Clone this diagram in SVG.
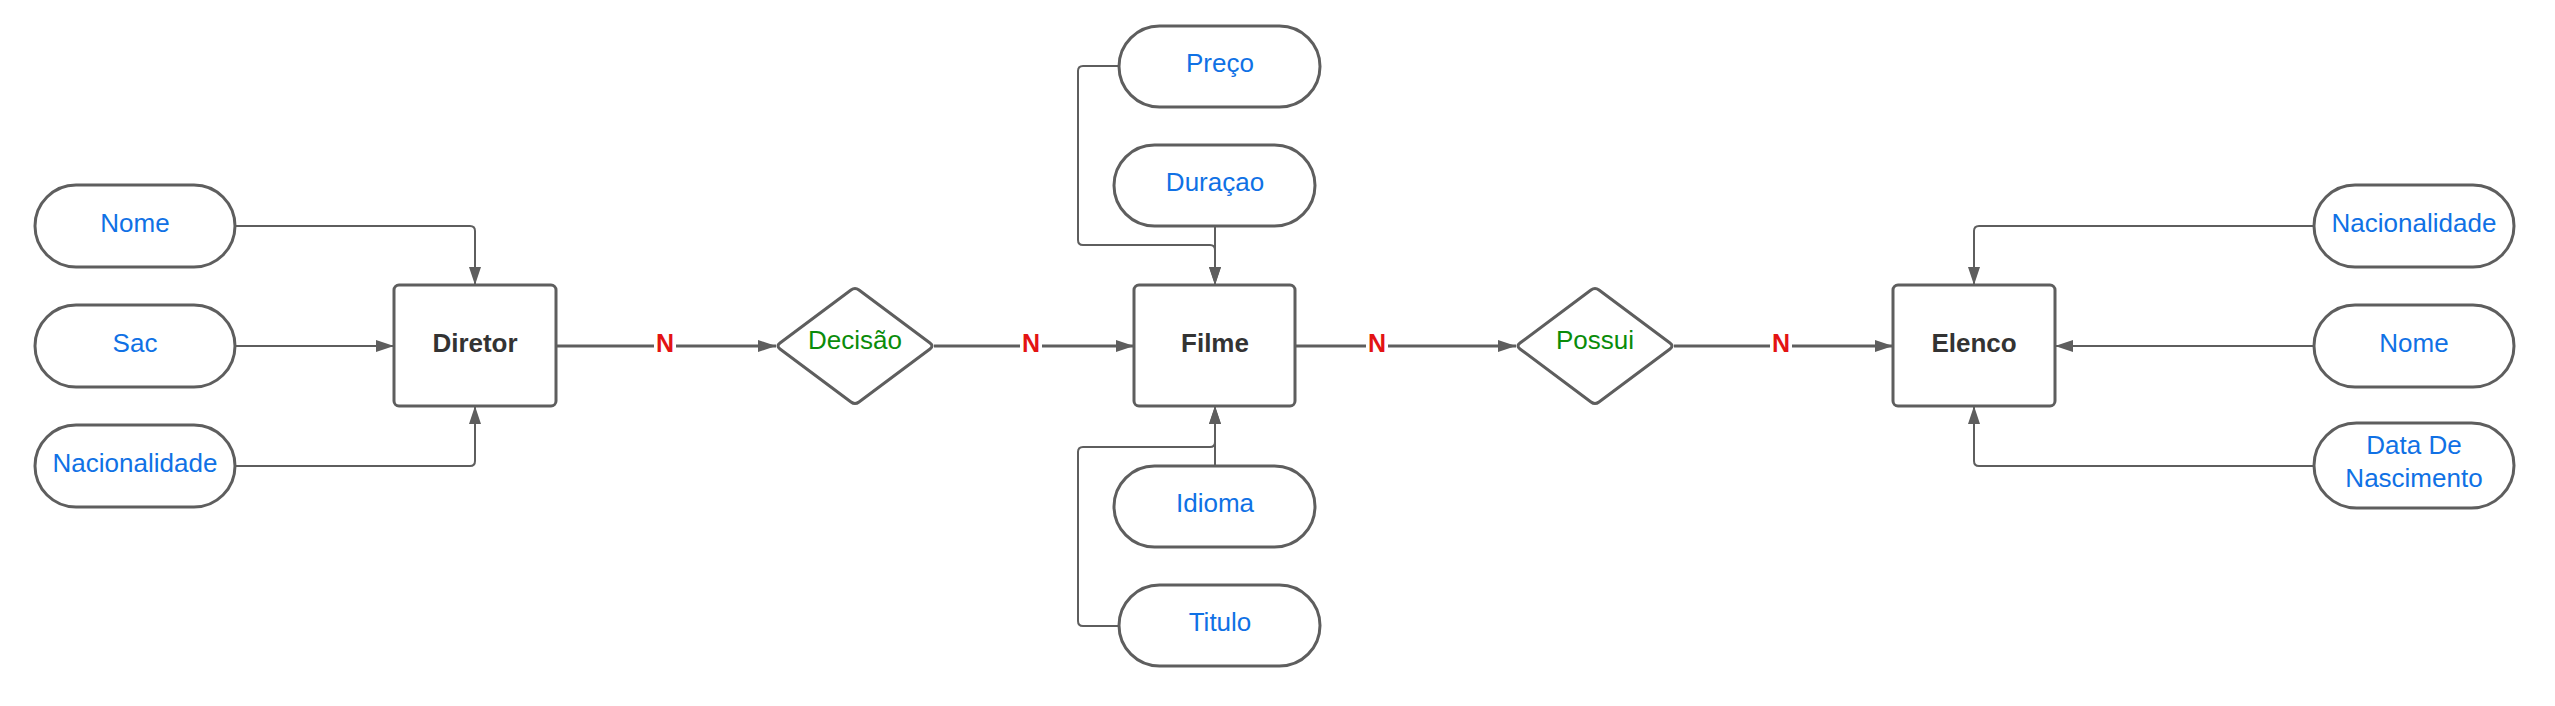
<svg xmlns="http://www.w3.org/2000/svg" width="2555" height="706" viewBox="0 0 2555 706">
<style>
.attr{fill:#fff;stroke:#5e5e5e;stroke-width:3}
.ent{fill:#fff;stroke:#5e5e5e;stroke-width:3}
.rel{fill:#fff;stroke:#5e5e5e;stroke-width:3;stroke-linejoin:round}
.at{font-family:"Liberation Sans",Arial,sans-serif;font-size:26px;fill:#1071e5;text-anchor:middle}
.et{font-family:"Liberation Sans",Arial,sans-serif;font-size:26px;font-weight:bold;fill:#333;text-anchor:middle}
.rt{font-family:"Liberation Sans",Arial,sans-serif;font-size:26px;fill:#0a8c0a;text-anchor:middle}
.nt{font-family:"Liberation Sans",Arial,sans-serif;font-size:25px;font-weight:bold;fill:#e31313;text-anchor:middle}
.c{fill:none;stroke:#5e5e5e;stroke-width:2;marker-end:url(#arr)}
.m{fill:none;stroke:#5e5e5e;stroke-width:3;marker-end:url(#arr)}
</style>
<defs>
<marker id="arr" markerUnits="userSpaceOnUse" markerWidth="19" markerHeight="13" refX="18" refY="6.5" orient="auto">
<path d="M0,0.5 L18,6.5 L0,12.5 z" fill="#5e5e5e"/>
</marker>
</defs>
<rect width="2555" height="706" fill="#fff"/>
<g id="connectors">
<path class="c" d="M235,226 H470 Q475,226 475,231 V285"/>
<path class="c" d="M235,346 H394"/>
<path class="c" d="M235,466 H470 Q475,466 475,461 V406"/>
<path class="c" d="M1119,66 H1083 Q1078,66 1078,71 V240 Q1078,245 1083,245 H1210 Q1215,245 1215,250 V285"/>
<path class="c" d="M1215,226 V285"/>
<path class="c" d="M1215,466 V406"/>
<path class="c" d="M1119,626 H1083 Q1078,626 1078,621 V452 Q1078,447 1083,447 H1210 Q1215,447 1215,442 V406"/>
<path class="c" d="M2314,226 H1979 Q1974,226 1974,231 V285"/>
<path class="c" d="M2314,346 H2055"/>
<path class="c" d="M2314,466 H1979 Q1974,466 1974,461 V406"/>
<path class="m" d="M556,346 H776"/>
<path class="m" d="M934,346 H1134"/>
<path class="m" d="M1295,346 H1516"/>
<path class="m" d="M1674,346 H1893"/>
<g id="cardinalities">
<rect x="654" y="332" width="22" height="22" fill="#fff"/>
<text class="nt" x="665" y="352">N</text>
<rect x="1020" y="332" width="22" height="22" fill="#fff"/>
<text class="nt" x="1031" y="352">N</text>
<rect x="1366" y="332" width="22" height="22" fill="#fff"/>
<text class="nt" x="1377" y="352">N</text>
<rect x="1770" y="332" width="22" height="22" fill="#fff"/>
<text class="nt" x="1781" y="352">N</text>
</g>
</g>
<g id="diretor-nome"><rect class="attr" x="35" y="185" width="200" height="82" rx="41"/><text class="at" x="135" y="232">Nome</text></g>
<g id="diretor-sac"><rect class="attr" x="35" y="305" width="200" height="82" rx="41"/><text class="at" x="135" y="352">Sac</text></g>
<g id="diretor-nacionalidade"><rect class="attr" x="35" y="425" width="200" height="82" rx="41"/><text class="at" x="135" y="472">Nacionalidade</text></g>
<g id="diretor"><rect class="ent" x="394" y="285" width="162" height="121" rx="5"/><text class="et" x="475" y="352">Diretor</text></g>
<g id="decisao"><path class="rel" d="M780,343 L851,290 Q855,287 859,290 L930,343 Q934,346 930,349 L859,402 Q855,405 851,402 L780,349 Q776,346 780,343 Z"/><text class="rt" x="855" y="349">Decisão</text></g>
<g id="filme-preco"><rect class="attr" x="1119" y="26" width="201" height="81" rx="40.5"/><text class="at" x="1220" y="72">Preço</text></g>
<g id="filme-duracao"><rect class="attr" x="1114" y="145" width="201" height="81" rx="40.5"/><text class="at" x="1215" y="191">Duraçao</text></g>
<g id="filme"><rect class="ent" x="1134" y="285" width="161" height="121" rx="5"/><text class="et" x="1215" y="352">Filme</text></g>
<g id="filme-idioma"><rect class="attr" x="1114" y="466" width="201" height="81" rx="40.5"/><text class="at" x="1215" y="512">Idioma</text></g>
<g id="filme-titulo"><rect class="attr" x="1119" y="585" width="201" height="81" rx="40.5"/><text class="at" x="1220" y="631">Titulo</text></g>
<g id="possui"><path class="rel" d="M1520,343 L1591,290 Q1595,287 1599,290 L1670,343 Q1674,346 1670,349 L1599,402 Q1595,405 1591,402 L1520,349 Q1516,346 1520,343 Z"/><text class="rt" x="1595" y="349">Possui</text></g>
<g id="elenco"><rect class="ent" x="1893" y="285" width="162" height="121" rx="5"/><text class="et" x="1974" y="352">Elenco</text></g>
<g id="elenco-nacionalidade"><rect class="attr" x="2314" y="185" width="200" height="82" rx="41"/><text class="at" x="2414" y="232">Nacionalidade</text></g>
<g id="elenco-nome"><rect class="attr" x="2314" y="305" width="200" height="82" rx="41"/><text class="at" x="2414" y="352">Nome</text></g>
<g id="elenco-data"><rect class="attr" x="2314" y="423" width="200" height="85" rx="42.5"/><text class="at" x="2414" y="454">Data De</text><text class="at" x="2414" y="487">Nascimento</text></g>
</svg>
